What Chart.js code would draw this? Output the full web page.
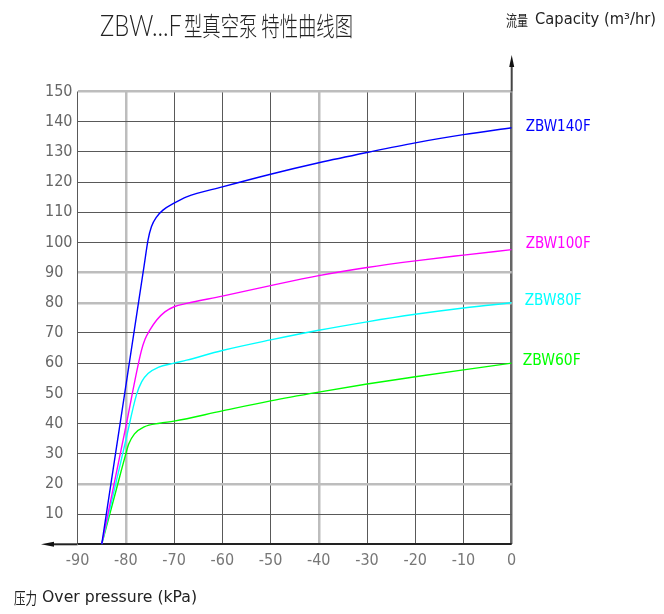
<!DOCTYPE html>
<html><head><meta charset="utf-8">
<script src="https://cdn.jsdelivr.net/npm/chart.js@4.4.1/dist/chart.umd.min.js"></script>
<style>html,body{margin:0;padding:0;background:#fff}#wrap{width:664px;height:614px;position:relative}</style>
</head><body><div id="wrap"><canvas id="c"></canvas></div>
<script>
// ---- data ----
const seriesNames = ['ZBW140F', 'ZBW100F', 'ZBW80F', 'ZBW60F'];
const pressure140 = [-85, -80, -76.2, -75.4, -74.7, -73.6, -72.3, -70, -67.4, -60, -50, -40, -30, -20, -10, 0];
const capacity140 = [0, 52.5, 92.4, 100.8, 105.2, 108.5, 110.7, 113, 115.1, 118.4, 122.6, 126.4, 129.8, 133.0, 135.7, 138];
const pressure100 = [-85, -80, -76.8, -76.0, -75, -73.6, -71.9, -70, -67.4, -60, -50, -40, -30, -20, -10, 0];
const capacity100 = [0, 39, 64, 68, 71, 74.3, 77.0, 78.7, 79.8, 82.2, 85.7, 89.0, 91.7, 93.9, 95.8, 97.6];
const pressure80 = [-85, -80, -77.8, -76.7, -75.4, -73.3, -70, -67.4, -60, -50, -40, -30, -20, -10, 0];
const capacity80 = [0, 34.5, 49.5, 53.9, 56.6, 58.6, 60, 61, 64.2, 67.7, 70.9, 73.7, 76.2, 78.3, 80];
const pressure60 = [-85, -82, -80.2, -79.4, -78.2, -76.2, -73, -70, -60, -50, -40, -30, -20, -10, 0];
const capacity60 = [0, 18, 28.8, 33.2, 36.6, 38.9, 40.1, 40.8, 44.2, 47.5, 50.4, 53.1, 55.5, 57.8, 60];
const xTickValues = [-90, -80, -70, -60, -50, -40, -30, -20, -10, 0];
const yTickValues = [0, 10, 20, 30, 40, 50, 60, 70, 80, 90, 100, 110, 120, 130, 140, 150];
const titleLatin = 'ZBW...F';
const titleCJK = '型真空泵 特性曲线图';
const yTitleCJK = '流量';
const yTitleLatin = 'Capacity (m³/hr)';
const xTitleCJK = '压力';
const xTitleLatin = 'Over pressure (kPa)';

// ---- styles ----
const colors = ['#0000ff', '#ff00ff', '#00ffff', '#00ff00'];
const greyX = [-80, -40];
const greyY = [150, 90, 80, 20];
const CAD = '"DejaVu Sans Condensed", "Liberation Sans Narrow", "Roboto", sans-serif';

const pairs = (xs, ys) => xs.map((x, i) => ({x, y: ys[i]}));
const series = [pairs(pressure140, capacity140), pairs(pressure100, capacity100), pairs(pressure80, capacity80), pairs(pressure60, capacity60)];

function fitText(ctx, text, x, y, w, font, color) {
  ctx.save();
  ctx.font = font; ctx.fillStyle = color; ctx.textBaseline = 'middle'; ctx.textAlign = 'left';
  const m = ctx.measureText(text).width;
  ctx.translate(x, y); ctx.scale(w / m, 1); ctx.fillText(text, 0, 0);
  ctx.restore();
}

const decor = {
  id: 'decor',
  afterDraw(chart) {
    const ctx = chart.ctx, a = chart.chartArea;
    ctx.save();
    ctx.strokeStyle = '#222'; ctx.lineWidth = 2;
    ctx.beginPath(); ctx.moveTo(a.left, a.bottom); ctx.lineTo(50, a.bottom); ctx.stroke();
    ctx.fillStyle = '#111';
    ctx.beginPath(); ctx.moveTo(41, a.bottom); ctx.lineTo(54, a.bottom - 2.5); ctx.lineTo(54, a.bottom + 2.5); ctx.closePath(); ctx.fill();
    ctx.strokeStyle = '#444'; ctx.lineWidth = 2;
    ctx.beginPath(); ctx.moveTo(a.right, a.top); ctx.lineTo(a.right, 62); ctx.stroke();
    ctx.beginPath(); ctx.moveTo(a.right, 55); ctx.lineTo(a.right - 2.5, 67); ctx.lineTo(a.right + 2.5, 67); ctx.closePath(); ctx.fill();
    ctx.restore();
    fitText(ctx, titleLatin, 100, 27, 82, '300 29px Lato, "DejaVu Sans", sans-serif', '#222');
    fitText(ctx, titleCJK, 184, 26, 169, '300 26px "Noto Sans CJK SC"', '#222');
    fitText(ctx, yTitleCJK, 506, 20, 22, '15px "Noto Sans CJK SC"', '#222');
    fitText(ctx, yTitleLatin, 535, 20, 121, '15px ' + CAD, '#222');
    fitText(ctx, xTitleCJK, 14, 598, 23, '16px "Noto Sans CJK SC"', '#222');
    fitText(ctx, xTitleLatin, 42, 598, 155, '15px ' + CAD, '#222');
    const ys = chart.scales.y;
    const dy = [-1, -6, -2, -2];
    const dx = [14, 14, 13, 11];
    const lw = [65, 65, 57, 58];
    series.forEach((s, i) => {
      const yp = ys.getPixelForValue(s[s.length - 1].y) + dy[i];
      fitText(ctx, seriesNames[i], a.right + dx[i], yp, lw[i], '16px ' + CAD, colors[i]);
    });
  }
};

new Chart(document.getElementById('c'), {
  type: 'line',
  data: {
    datasets: series.map((d, i) => ({
      label: seriesNames[i], data: d, borderColor: colors[i], borderWidth: 1.4,
      pointRadius: 0, cubicInterpolationMode: 'monotone', fill: false
    }))
  },
  options: {
    responsive: true, maintainAspectRatio: false, animation: false,
    layout: {padding: {left: 45, top: 91.5, right: 152.3, bottom: 0}},
    plugins: {legend: {display: false}, tooltip: {enabled: false}, title: {display: false}},
    scales: {
      x: {
        type: 'linear', min: -90, max: 0,
        afterBuildTicks: s => { s.ticks = xTickValues.map(v => ({value: v})); },
        afterFit: s => { s.height = 69.7; },
        border: {display: false},
        grid: {
          drawTicks: false,
          color: c => c.tick.value === 0 ? '#666' : (greyX.includes(c.tick.value) ? '#bdbdbd' : '#595959'),
          lineWidth: c => c.tick.value === 0 ? 2.5 : (greyX.includes(c.tick.value) ? 2.5 : 1)
        },
        ticks: {color: '#777', padding: 7, font: {family: CAD, size: 16}, maxRotation: 0, autoSkip: false}
      },
      y: {
        type: 'linear', min: 0, max: 150,
        afterBuildTicks: s => { s.ticks = yTickValues.map(v => ({value: v})); },
        afterFit: s => { s.width = 77.6 - 45; },
        border: {display: false},
        grid: {
          drawTicks: false,
          color: c => c.tick.value === 0 ? '#222' : (greyY.includes(c.tick.value) ? '#bdbdbd' : '#595959'),
          lineWidth: c => c.tick.value === 0 ? 2 : (greyY.includes(c.tick.value) ? 2.5 : 1)
        },
        ticks: {color: '#666', crossAlign: 'far', padding: 0, font: {family: CAD, size: 16}, autoSkip: false,
          callback: v => v === 0 ? '' : String(v)}
      }
    }
  },
  plugins: [decor]
});
</script></body></html>
